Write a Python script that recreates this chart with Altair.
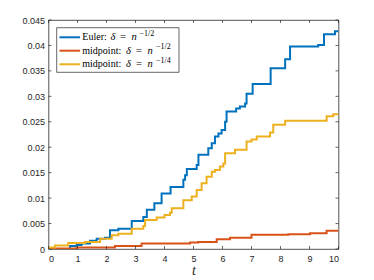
import altair as alt
import pandas as pd

# ---------------- data ----------------
t_euler = [0, 0.74, 0.97, 1.14, 1.43, 1.66, 1.95, 2.12, 2.41, 2.87, 3.27, 3.39, 3.65, 3.90,
           4.21, 4.65, 4.71, 4.77, 5.11, 5.17, 5.51, 5.63, 5.74, 5.86, 5.97, 6.09, 6.14,
           6.47, 6.60, 6.78, 6.83, 7.04, 7.66, 8.16, 8.33, 9.30, 9.50, 9.88, 10.0]
v_euler = [0, 0.0006, 0.0008, 0.0011, 0.0016, 0.0020, 0.0022, 0.0037, 0.0040, 0.0055, 0.0063,
           0.0077, 0.0090, 0.0109, 0.0122, 0.0136, 0.0145, 0.0157, 0.0165, 0.0185, 0.0198,
           0.0208, 0.0221, 0.0227, 0.0234, 0.0250, 0.0270, 0.0276, 0.0280, 0.0286, 0.0305,
           0.0324, 0.0355, 0.0373, 0.0398, 0.0401, 0.0422, 0.0428, 0.0428]

t_mid2 = [0, 0.22, 0.97, 2.29, 3.21, 4.88, 5.16, 5.80, 6.26, 7.00, 8.27, 9.02, 9.59, 10.0]
v_mid2 = [0, 0.0001, 0.0003, 0.0006, 0.0011, 0.0013, 0.0014, 0.0019, 0.0022, 0.0028,
          0.0029, 0.0031, 0.0036, 0.0036]

t_mid4 = [0, 0.05, 0.22, 0.68, 1.26, 1.78, 2.18, 2.41, 2.87, 3.27, 3.33, 3.73, 4.00, 4.19,
          4.25, 4.65, 4.94, 5.11, 5.28, 5.45, 5.63, 5.74, 5.91, 6.03, 6.09, 6.43, 6.83,
          7.00, 7.18, 7.64, 7.75, 8.16, 9.59, 9.82, 10.0]
v_mid4 = [0, 0.0003, 0.0007, 0.0012, 0.0014, 0.0020, 0.0027, 0.0030, 0.0040, 0.0045,
          0.0057, 0.0062, 0.0067, 0.0071, 0.0080, 0.0096, 0.0103, 0.0116, 0.0129, 0.0142,
          0.0152, 0.0155, 0.0162, 0.0168, 0.0188, 0.0195, 0.0211, 0.0215, 0.0221, 0.0229,
          0.0244, 0.0252, 0.0261, 0.0265, 0.0265]

series_names = ["Euler n^-1/2", "midpoint n^-1/2", "midpoint n^-1/4"]
series_colors = ["#0072BD", "#D95319", "#EDB120"]
legend_words = ["Euler:", "midpoint:", "midpoint:"]
legend_exps = ["\u22121/2", "\u22121/2", "\u22121/4"]

x_ticks = [0, 1, 2, 3, 4, 5, 6, 7, 8, 9, 10]
y_ticks = [0, 0.005, 0.01, 0.015, 0.02, 0.025, 0.03, 0.035, 0.04, 0.045]

# ---------------- chart ----------------
W, H = 290, 229
AX = "#262626"
TL = 3  # tick length

rows = []
for name, ts, vs in zip(series_names, [t_euler, t_mid2, t_mid4], [v_euler, v_mid2, v_mid4]):
    for t, v in zip(ts, vs):
        rows.append({"series": name, "t": t, "v": v})
df = pd.DataFrame(rows)

x_scale = alt.Scale(domain=[0, 10], nice=False, zero=False)
y_scale = alt.Scale(domain=[0, 0.045], nice=False)

x_axis = alt.Axis(values=x_ticks, ticks=False, grid=False, domain=False,
                  title="t", labelPadding=5, titlePadding=0,
                  titleFont="Liberation Serif", titleFontStyle="italic",
                  titleFontWeight="normal", titleFontSize=14, titleColor=AX)
y_axis = alt.Axis(values=y_ticks, format="~g", ticks=False, grid=False,
                  domain=False, title=None, labelPadding=4)

lines = alt.Chart(df).mark_line(interpolate="step-after", strokeWidth=2, clip=True).encode(
    x=alt.X("t:Q", scale=x_scale, axis=x_axis),
    y=alt.Y("v:Q", scale=y_scale, axis=y_axis),
    color=alt.Color("series:N", scale=alt.Scale(domain=series_names, range=series_colors),
                    legend=None),
)

xt = pd.DataFrame({"t": x_ticks})
yt = pd.DataFrame({"v": y_ticks})
tick_style = dict(color=AX, strokeWidth=0.7)
ticks_bottom = alt.Chart(xt).mark_rule(**tick_style).encode(
    x=alt.X("t:Q", scale=x_scale, axis=x_axis), y=alt.value(H), y2=alt.value(H - TL))
ticks_top = alt.Chart(xt).mark_rule(**tick_style).encode(
    x=alt.X("t:Q", scale=x_scale, axis=x_axis), y=alt.value(0), y2=alt.value(TL))
ticks_left = alt.Chart(yt).mark_rule(**tick_style).encode(
    y=alt.Y("v:Q", scale=y_scale, axis=y_axis), x=alt.value(0), x2=alt.value(TL))
ticks_right = alt.Chart(yt).mark_rule(**tick_style).encode(
    y=alt.Y("v:Q", scale=y_scale, axis=y_axis), x=alt.value(W - TL), x2=alt.value(W))

one = pd.DataFrame({"k": [0]})
layers = [lines, ticks_bottom, ticks_top, ticks_left, ticks_right]

# legend box
layers.append(alt.Chart(one).mark_rect(fill="white", stroke=AX, strokeWidth=0.7).encode(
    x=alt.value(8.2), x2=alt.value(130.5), y=alt.value(7.7), y2=alt.value(52.3)))

row_y = [17.3, 30.7, 44.3]
# segment x positions: word, delta, equals, n, exponent
seg_x = [[33.8, 62.0, 71.5, 83.0, 91.0],
         [33.8, 77.5, 87.5, 99.0, 107.5],
         [33.8, 77.5, 87.5, 99.0, 107.5]]
serif = "Liberation Serif"
for i in range(3):
    yb = row_y[i] + 2.8
    layers.append(alt.Chart(one).mark_rule(color=series_colors[i], strokeWidth=2).encode(
        x=alt.value(11.0), x2=alt.value(31.5), y=alt.value(row_y[i])))
    segs = [(legend_words[i], "normal", 10, 0),
            ("\u03b4", "italic", 10.5, 0),
            ("=", "normal", 10.5, 0),
            ("n", "italic", 10.5, 0),
            (legend_exps[i], "normal", 8, -4.4)]
    for (txt, style, size, dy), xp in zip(segs, seg_x[i]):
        layers.append(alt.Chart(one).mark_text(
            align="left", baseline="alphabetic", font=serif, fontStyle=style,
            fontSize=size, color="black").encode(
            x=alt.value(xp), y=alt.value(yb + dy), text=alt.value(txt)))

chart = alt.layer(*layers).properties(
    width=W, height=H,
    autosize=alt.AutoSizeParams(type="none"),
    padding={"left": 40.5, "top": 12, "right": 20, "bottom": 27},
    background="white",
).configure_view(stroke=AX, strokeWidth=0.8).configure_axis(
    labelFont="Liberation Sans", labelFontSize=9, labelColor=AX,
)

chart.save("out.html", embed_options={"renderer": "svg", "actions": False})
